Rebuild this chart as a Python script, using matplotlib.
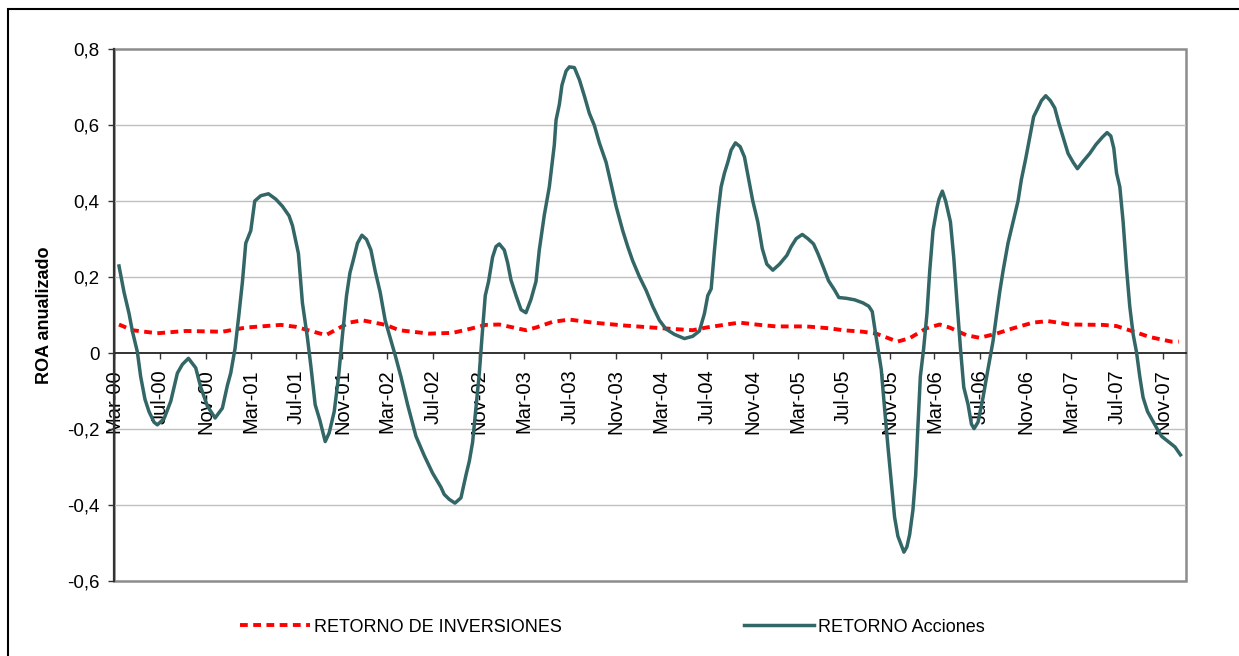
import numpy as np
import pandas as pd
import matplotlib
matplotlib.use("Agg")
import matplotlib.pyplot as plt
import matplotlib.dates as mdates
from matplotlib.patches import Rectangle

# meses transcurridos desde mar-2000 (fraccionarios) y valores
mes_acciones = [
    0.44, 0.88, 1.32, 1.61, 2.05, 2.34, 2.72, 3.07, 3.51, 3.80, 4.39, 4.98, 5.56, 6.00,
    6.53, 7.17, 7.61, 8.20, 8.87, 9.51, 9.95, 10.24, 10.62, 10.97, 11.27, 11.56, 12.00,
    12.35, 12.88, 13.55, 14.19, 14.78, 15.36, 15.66, 16.18, 16.53, 16.97, 17.27, 17.65,
    18.06, 18.53, 18.88, 19.32, 19.70, 20.05, 20.40, 20.70, 20.98, 21.36, 21.75, 22.15,
    22.54, 22.92, 23.35, 23.79, 24.14, 24.67, 25.17, 25.76, 26.49, 27.22, 27.95, 28.68,
    28.97, 29.41, 29.91, 30.44, 30.88, 31.17, 31.46, 31.75, 32.05, 32.28, 32.57, 32.86,
    33.21, 33.51, 33.80, 34.24, 34.53, 34.83, 35.27, 35.71, 36.14, 36.58, 37.02, 37.31,
    37.75, 38.19, 38.63, 38.78, 39.07, 39.30, 39.66, 39.95, 40.39, 40.83, 41.26, 41.70,
    42.14, 42.58, 43.17, 43.60, 44.05, 44.63, 45.07, 45.50, 46.09, 46.68, 47.26, 47.85,
    48.43, 49.17, 50.04, 50.77, 51.36, 51.80, 52.09, 52.39, 52.68, 52.97, 53.26, 53.56,
    53.85, 54.14, 54.52, 54.93, 55.31, 55.69, 56.04, 56.48, 56.87, 57.27, 57.80, 58.39,
    59.03, 59.41, 59.85, 60.38, 60.87, 61.37, 61.75, 62.19, 62.69, 63.21, 63.59, 64.24,
    64.97, 65.70, 66.22, 66.52, 66.73, 67.02, 67.31, 67.60, 67.90, 68.19, 68.48, 68.77,
    69.07, 69.30, 69.56, 69.80, 70.09, 70.33, 70.53, 70.74, 71.03, 71.32, 71.56, 71.85,
    72.20, 72.38, 72.67, 72.96, 73.38, 73.67, 73.96, 74.26, 74.55, 74.93, 75.22, 75.45,
    75.80, 76.24, 76.67, 77.11, 77.40, 77.70, 77.99, 78.43, 78.87, 79.31, 79.60, 79.98,
    80.33, 80.68, 81.06, 81.36, 81.74, 82.15, 82.53, 82.90, 83.32, 83.70, 84.14, 84.52,
    85.01, 85.60, 86.13, 86.71, 87.12, 87.45, 87.71, 87.95, 88.24, 88.53, 88.82, 89.11,
    89.41, 89.70, 89.99, 90.28, 90.67, 91.10, 91.45, 91.90, 92.48, 93.07, 93.56,
]
retorno_acciones = [
    0.229, 0.160, 0.104, 0.058, 0.003, -0.062, -0.122, -0.154, -0.182, -0.189, -0.173,
    -0.127, -0.053, -0.030, -0.014, -0.039, -0.090, -0.140, -0.171, -0.145, -0.085, -0.053,
    0.012, 0.104, 0.188, 0.289, 0.322, 0.400, 0.414, 0.419, 0.405, 0.386, 0.361, 0.335,
    0.262, 0.132, 0.040, -0.034, -0.136, -0.177, -0.233, -0.210, -0.154, -0.062, 0.049,
    0.151, 0.211, 0.243, 0.289, 0.310, 0.299, 0.271, 0.215, 0.160, 0.086, 0.049, -0.006,
    -0.062, -0.136, -0.219, -0.270, -0.316, -0.353, -0.372, -0.385, -0.395, -0.381, -0.321,
    -0.285, -0.235, -0.145, -0.053, 0.040, 0.151, 0.188, 0.252, 0.280, 0.287, 0.271, 0.238,
    0.192, 0.151, 0.114, 0.106, 0.141, 0.188, 0.271, 0.363, 0.437, 0.548, 0.613, 0.654,
    0.705, 0.742, 0.753, 0.751, 0.719, 0.677, 0.631, 0.599, 0.553, 0.502, 0.446, 0.386,
    0.322, 0.280, 0.243, 0.201, 0.165, 0.123, 0.086, 0.063, 0.049, 0.038, 0.044, 0.058,
    0.104, 0.151, 0.169, 0.271, 0.363, 0.437, 0.474, 0.502, 0.534, 0.553, 0.543, 0.516,
    0.456, 0.400, 0.345, 0.275, 0.234, 0.218, 0.234, 0.257, 0.280, 0.301, 0.312, 0.301,
    0.287, 0.262, 0.229, 0.190, 0.166, 0.146, 0.144, 0.140, 0.132, 0.123, 0.109, 0.067,
    0.012, -0.043, -0.145, -0.247, -0.339, -0.432, -0.482, -0.506, -0.524, -0.510, -0.478,
    -0.413, -0.321, -0.191, -0.062, 0.012, 0.104, 0.215, 0.322, 0.382, 0.405, 0.426, 0.400,
    0.345, 0.252, 0.132, 0.012, -0.090, -0.136, -0.187, -0.199, -0.182, -0.117, -0.043,
    0.030, 0.095, 0.160, 0.215, 0.289, 0.345, 0.400, 0.456, 0.511, 0.567, 0.622, 0.645,
    0.664, 0.677, 0.664, 0.645, 0.604, 0.562, 0.525, 0.502, 0.485, 0.504, 0.525, 0.548,
    0.568, 0.580, 0.571, 0.539, 0.474, 0.437, 0.345, 0.225, 0.123, 0.049, 0.003, -0.062,
    -0.117, -0.154, -0.177, -0.196, -0.219, -0.233, -0.247, -0.268,
]

mes_inversiones = [
    0.44, 1.61, 3.80, 6.30, 9.51, 11.56, 14.64, 15.95, 18.59, 20.63, 21.80, 23.85, 25.02,
    27.66, 29.70, 30.88, 32.63, 33.80, 36.14, 37.02, 38.48, 39.95, 42.00, 44.93, 48.15,
    50.77, 51.95, 53.71, 54.87, 56.63, 58.09, 60.72, 62.77, 63.94, 65.70, 66.87, 68.74,
    69.80, 71.27, 72.43, 73.31, 74.77, 75.94, 77.41, 78.87, 80.62, 81.94, 83.85, 86.77,
    87.94, 89.99, 90.87, 92.77, 93.40,
]
retorno_inversiones = [
    0.075, 0.060, 0.052, 0.058, 0.056, 0.067, 0.074, 0.069, 0.047, 0.080, 0.086, 0.074,
    0.060, 0.051, 0.053, 0.061, 0.074, 0.075, 0.060, 0.067, 0.082, 0.088, 0.080, 0.072,
    0.065, 0.060, 0.067, 0.075, 0.080, 0.074, 0.070, 0.070, 0.065, 0.060, 0.056, 0.051,
    0.030, 0.039, 0.065, 0.075, 0.067, 0.047, 0.040, 0.051, 0.065, 0.080, 0.084, 0.075,
    0.074, 0.071, 0.051, 0.042, 0.030, 0.030,
]

inicio = pd.Timestamp("2000-03-01")
fin = pd.Timestamp("2008-01-01")


def a_fechas(meses):
    return inicio + pd.to_timedelta(np.array(meses) * 30.44, unit="D")


plt.rcParams["font.family"] = ["Liberation Sans", "DejaVu Sans"]

fig = plt.figure(figsize=(12.39, 6.56), dpi=100)
ax = fig.add_axes([0.092, 0.1143, 0.865, 0.811])

verde = "#336666"
rojo = "#ff0000"

ax.plot(a_fechas(mes_inversiones), retorno_inversiones, color=rojo, lw=2.8,
        dashes=(2.0, 1.4), dash_capstyle="butt", label="RETORNO DE INVERSIONES", zorder=3)
ax.plot(a_fechas(mes_acciones), retorno_acciones, color=verde, lw=2.5,
        label="RETORNO Acciones", zorder=4)

ax.set_xlim(inicio, fin)
ax.set_ylim(-0.6, 0.8)
ax.set_yticks(np.arange(-0.6, 0.81, 0.2))
ax.yaxis.set_major_formatter(
    plt.FuncFormatter(lambda v, p: "0" if abs(v) < 1e-9 else f"{v:.1f}".replace(".", ",")))

for y in [-0.4, -0.2, 0.2, 0.4, 0.6]:
    ax.axhline(y, color="#c0c0c0", lw=1.0, zorder=1)

ax.xaxis.set_major_locator(mdates.MonthLocator(bymonth=[3, 7, 11]))
ax.xaxis.set_major_formatter(mdates.DateFormatter("%b-%y"))
ax.tick_params(axis="x", direction="out", length=4.5, width=1, color="#333333",
               labelsize=14.5, rotation=90, pad=7)
ax.tick_params(axis="y", direction="out", length=4.5, width=1, color="#333333",
               labelsize=13.5, pad=6)
for lab in ax.get_xticklabels():
    lab.set_va("top")

# eje x en el cero
ax.spines["bottom"].set_position(("data", 0))
ax.spines["bottom"].set_color("#222222")
ax.spines["bottom"].set_linewidth(1.3)
ax.spines["bottom"].set_zorder(2)
ax.spines["left"].set_color("#333333")
ax.spines["left"].set_linewidth(1.6)
for s in ["top", "right"]:
    ax.spines[s].set_visible(False)
ax.add_patch(Rectangle((0, 0), 1, 1, transform=ax.transAxes, fill=False,
                       edgecolor="#8c8c8c", lw=1.8, clip_on=False, zorder=0.5))

ax.set_ylabel("ROA anualizado", fontsize=13, fontweight="bold")
ax.yaxis.set_label_coords(-0.057, 0.5)

fig.legend(loc="center", bbox_to_anchor=(0.494, 0.044), ncol=2, frameon=False,
           fontsize=13, handlelength=3.9, handletextpad=0.2, columnspacing=10.1)

# marco exterior
fig.add_artist(Rectangle((8 / 1239, -0.2), 1.2, 1 - 9 / 656 + 0.2, transform=fig.transFigure,
                         fill=False, edgecolor="black", lw=1.5))

fig.savefig("out.png", dpi=100)
